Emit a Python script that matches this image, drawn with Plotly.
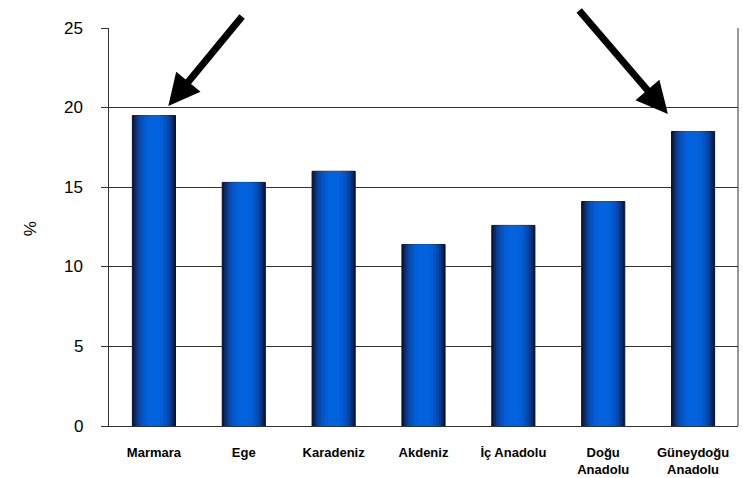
import plotly.graph_objects as go

# Regional shares (%)
regions = ["Marmara", "Ege", "Karadeniz", "Akdeniz", "İç Anadolu",
           "Doğu<br>Anadolu", "Güneydoğu<br>Anadolu"]
values = [19.5, 15.3, 16.0, 11.4, 12.6, 14.1, 18.5]
y_ticks = [0, 5, 10, 15, 20, 25]

# Layers used to build a cylinder-like horizontal shading on each bar
shade_widths = [0.48, 0.44, 0.39, 0.34, 0.28, 0.21, 0.13]
shade_colors = ["#08173a", "#0b2a66", "#0a3b8e", "#0749ad", "#0454c4", "#025dd6", "#0363de"]

fig = go.Figure()
for i, (w, c) in enumerate(zip(shade_widths, shade_colors)):
    fig.add_trace(go.Bar(
        x=list(range(len(regions))), y=values, width=w,
        marker=dict(color=c,
                    line=dict(color="#0a1230" if i == 0 else c, width=1 if i == 0 else 0)),
        hoverinfo="skip", showlegend=False,
    ))

axis_color = "#333333"
fig.update_layout(
    barmode="overlay",
    width=743, height=478,
    margin=dict(l=109, r=5, t=28, b=52),
    paper_bgcolor="white", plot_bgcolor="white",
    font=dict(family="Liberation Sans, Arial, sans-serif", color="black"),
    xaxis=dict(
        tickmode="array", tickvals=list(range(len(regions))), ticktext=[f"<b>{r}</b>" for r in regions],
        tickfont=dict(family="Liberation Sans Narrow, Arial Narrow, Liberation Sans", size=13),
        range=[-0.5, len(regions) - 0.5],
        showline=True, linecolor=axis_color, linewidth=1,
        mirror=False, ticks="", ticklabelstandoff=14,
        showgrid=False, zeroline=False, automargin=False,
    ),
    yaxis=dict(
        range=[0, 25], tickmode="array", tickvals=y_ticks,
        showticklabels=False,
        showgrid=True, gridcolor=axis_color, gridwidth=1,
        showline=True, linecolor=axis_color, linewidth=1,
        ticks="outside", ticklen=7, tickcolor=axis_color,
        zeroline=False, automargin=False,
    ),
    shapes=[dict(type="line", xref="paper", yref="paper", x0=1, x1=1, y0=0, y1=1,
                 line=dict(color=axis_color, width=1))],
)

# Y tick labels, set further from the axis than the default placement
for v in y_ticks:
    fig.add_annotation(text=str(v), xref="paper", yref="y", x=-0.038, y=v,
                       xanchor="right", yanchor="middle", showarrow=False,
                       font=dict(size=17))

# Y-axis title
fig.add_annotation(text="%", xref="paper", yref="paper", x=-0.1256, y=0.497,
                   textangle=-90, showarrow=False, font=dict(size=17),
                   xanchor="center", yanchor="middle")

# Pointer arrows highlighting the two highest regions
fig.add_annotation(x=0.16, y=20.1, xref="x", yref="y", ax=75, ay=-91,
                   showarrow=True, arrowhead=2, arrowsize=0.9, arrowwidth=7,
                   arrowcolor="black", text="")
fig.add_annotation(x=5.72, y=19.6, xref="x", yref="y", ax=-90, ay=-105,
                   showarrow=True, arrowhead=2, arrowsize=0.9, arrowwidth=7,
                   arrowcolor="black", text="")

fig.write_html("out.html")
